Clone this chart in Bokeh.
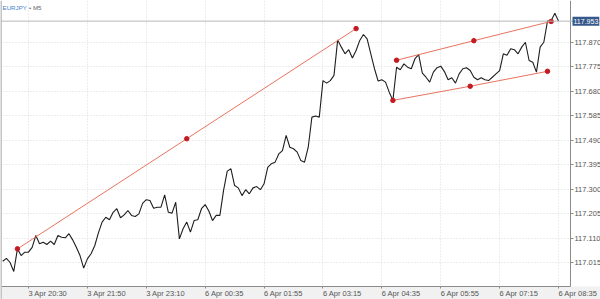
from bokeh.plotting import figure
from bokeh.models import (Range1d, FixedTicker, Span, Label, LinearAxis,
                          BoxAnnotation, PrintfTickFormatter)
from bokeh.embed import file_html
from bokeh.resources import INLINE

# ---- data (EURJPY M5 closes, bar index 0..151) ----
bar_index = list(range(152))
close = [
    117.020, 117.031, 117.015, 116.980, 117.068, 117.042, 117.055, 117.055, 117.074, 117.120,
    117.088, 117.094, 117.085, 117.098, 117.085, 117.120, 117.113, 117.111, 117.127, 117.103,
    117.074, 117.042, 116.993, 117.029, 117.049, 117.080, 117.130, 117.172, 117.191, 117.181,
    117.210, 117.224, 117.189, 117.200, 117.217, 117.198, 117.194, 117.204, 117.245, 117.259,
    117.256, 117.226, 117.230, 117.230, 117.278, 117.210, 117.207, 117.249, 117.107, 117.146,
    117.172, 117.133, 117.178, 117.181, 117.224, 117.240, 117.215, 117.178, 117.198, 117.198,
    117.295, 117.370, 117.379, 117.314, 117.305, 117.275, 117.298, 117.282, 117.305, 117.310,
    117.298, 117.321, 117.385, 117.399, 117.405, 117.437, 117.450, 117.509, 117.463, 117.457,
    117.444, 117.411, 117.405, 117.463, 117.580, 117.584, 117.580, 117.722, 117.712, 117.722,
    117.742, 117.880, 117.852, 117.826, 117.842, 117.810, 117.839, 117.878, 117.901, 117.884,
    117.826, 117.768, 117.720, 117.725, 117.716, 117.677, 117.645, 117.774, 117.764, 117.787,
    117.774, 117.768, 117.807, 117.823, 117.751, 117.735, 117.716, 117.755, 117.772, 117.778,
    117.757, 117.725, 117.733, 117.712, 117.748, 117.768, 117.772, 117.761, 117.735, 117.725,
    117.733, 117.725, 117.722, 117.735, 117.748, 117.761, 117.826, 117.820, 117.846, 117.842,
    117.826, 117.852, 117.871, 117.800, 117.793, 117.755, 117.852, 117.871, 117.953, 117.955,
    117.984, 117.953,
]
last_price = 117.953

time_ticks = [7, 23, 39, 55, 71, 87, 103, 119, 135, 151]
time_labels = ["3 Apr 20:30", "3 Apr 21:50", "3 Apr 23:10", "6 Apr 00:35", "6 Apr 01:55",
               "6 Apr 03:15", "6 Apr 04:35", "6 Apr 05:55", "6 Apr 07:15", "6 Apr 08:35"]
price_ticks = [117.015, 117.110, 117.205, 117.300, 117.395, 117.490, 117.585, 117.680,
               117.775, 117.870]

# drawn trend lines (anchor points: start, middle, end)
trend_x = [4, 50, 96]
trend_y = [117.068, 117.496, 117.924]
upper_x = [107, 128, 149]
upper_y = [117.801, 117.877, 117.952]
lower_x = [106, 127, 148]
lower_y = [117.645, 117.700, 117.758]

symbol = "EURJPY"
timeframe = "\u2022 M5"

# ---- layout constants (positions, in axis units) ----
X_START, X_END = -0.6, 162.4          # whole 600 px canvas
Y_START, Y_END = 116.8712, 118.0332   # whole 299 px canvas
AXIS_X = 154.25                       # price axis position (x = 570 px)
AXIS_Y = 116.9217                     # time axis position (y = 286 px)
LABEL_SHIFT = 5.25                    # time labels start at their tick

FONT = "Liberation Sans"
AXIS_COLOR = "#8c8c8c"
LABEL_COLOR = "#555555"

p = figure(width=600, height=299, output_backend="svg", toolbar_location=None,
           x_range=Range1d(X_START, X_END), y_range=Range1d(Y_START, Y_END),
           y_axis_location="right",
           min_border_left=0, min_border_right=0, min_border_top=0, min_border_bottom=0)
p.outline_line_color = None
p.background_fill_color = "white"
p.border_fill_color = "white"

# grids
p.xgrid.ticker = FixedTicker(ticks=time_ticks)
p.ygrid.ticker = FixedTicker(ticks=price_ticks)
for g in (p.xgrid[0], p.ygrid[0]):
    g.grid_line_color = "#dadada"
    g.grid_line_dash = "1 2"
    g.grid_line_width = 1

# white area right of the price axis, grey band under the time axis
p.add_layout(BoxAnnotation(left=AXIS_X, bottom=AXIS_Y, fill_color="white", fill_alpha=1.0,
                           line_color=None, level="underlay"))
p.add_layout(BoxAnnotation(top=AXIS_Y, fill_color="#f1f1f1", fill_alpha=1.0,
                           line_color=None, level="underlay"))

# y axis (right), drawn at its fixed place
yax = p.yaxis[0]
yax.fixed_location = AXIS_X
yax.bounds = (AXIS_Y, Y_END)
yax.ticker = FixedTicker(ticks=price_ticks)
yax.formatter = PrintfTickFormatter(format="%.3f")
yax.axis_line_color = AXIS_COLOR
yax.major_tick_line_color = AXIS_COLOR
yax.major_tick_in = 0
yax.major_tick_out = 3
yax.minor_tick_line_color = None
yax.major_label_standoff = 1
yax.major_label_text_font = FONT
yax.major_label_text_font_size = "7.5px"
yax.major_label_text_color = LABEL_COLOR

# x axis: line + ticks
xax = p.xaxis[0]
xax.fixed_location = AXIS_Y
xax.bounds = (X_START, AXIS_X)
xax.ticker = FixedTicker(ticks=time_ticks)
xax.major_label_text_font_size = "0px"
xax.major_label_text_color = None
xax.axis_line_color = AXIS_COLOR
xax.major_tick_line_color = AXIS_COLOR
xax.major_tick_in = 0
xax.major_tick_out = 2
xax.minor_tick_line_color = None

# x axis: labels, starting at each tick
label_pos = [t + LABEL_SHIFT for t in time_ticks]
lab_ax = LinearAxis(fixed_location=AXIS_Y, ticker=FixedTicker(ticks=label_pos),
                    major_label_overrides={pos: lab for pos, lab in zip(label_pos, time_labels)},
                    axis_line_color=None, major_tick_line_color=None,
                    minor_tick_line_color=None, major_tick_out=0, major_tick_in=0,
                    major_label_standoff=2, major_label_text_font=FONT,
                    major_label_text_font_size="7.5px", major_label_text_color=LABEL_COLOR)
p.add_layout(lab_ax, "below")

# left edge bar
p.add_layout(Span(location=X_START, dimension="height", line_color="#c4c4c4", line_width=3))

# current price line
p.add_layout(Span(location=last_price, dimension="width", line_color="#b8b8b8", line_width=1))

# price series
p.line(bar_index, close, line_color="#1e1e1e", line_width=1.1)

# trend lines
for xs, ys in ((trend_x, trend_y), (upper_x, upper_y), (lower_x, lower_y)):
    p.line(xs, ys, line_color="#e8735f", line_width=1)
    p.scatter(xs, ys, size=4.5, fill_color="#c41a22", line_color="#c41a22")

# current price tag
p.add_layout(Label(x=AXIS_X, y=last_price, x_units="data", y_units="data",
                   text=f"{last_price:.3f}", text_align="left", text_baseline="middle",
                   text_font=FONT, text_font_size="7px", text_color="white",
                   background_fill_color="#36588a", background_fill_alpha=1.0,
                   x_offset=2, padding=(1, 2)))

# title
p.add_layout(Label(x=2, y=299 - 7, x_units="screen", y_units="screen", text=symbol,
                   text_align="left", text_baseline="middle", text_font=FONT,
                   text_font_size="6.2px", text_color="#3f7fcf"))
p.add_layout(Label(x=28.5, y=299 - 7, x_units="screen", y_units="screen", text=timeframe,
                   text_align="left", text_baseline="middle", text_font=FONT,
                   text_font_size="6.2px", text_color="#666666"))

open("out.html", "w").write(file_html(p, INLINE))
